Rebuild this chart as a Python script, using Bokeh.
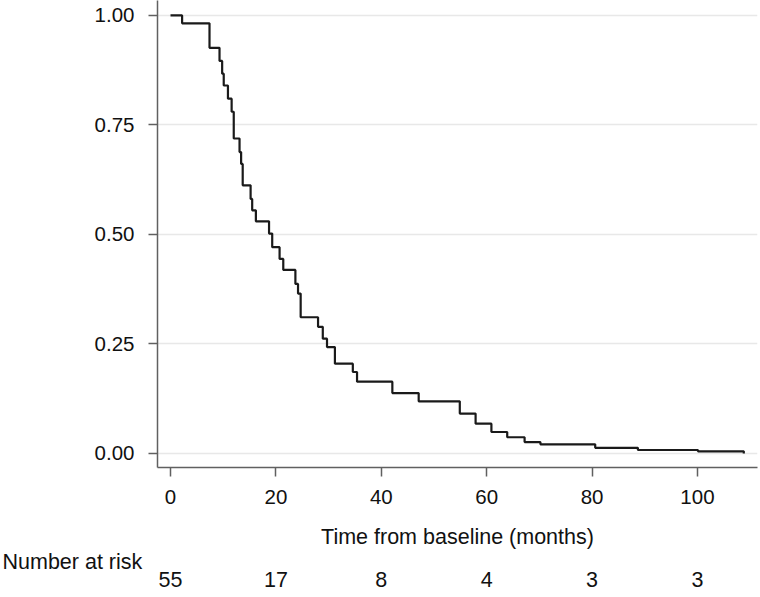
from bokeh.plotting import figure
from bokeh.models import Range1d, FixedTicker, LinearAxis, Title, PrintfTickFormatter
from bokeh.embed import file_html
from bokeh.resources import INLINE

# Kaplan-Meier estimate (time in months, survival after each step)
time = [0, 2.2, 7.4, 9.3, 9.8, 10.1, 10.9, 11.6, 12.0, 13.1, 13.4, 13.7, 15.2, 15.5,
        16.2, 18.7, 19.3, 20.7, 21.4, 23.7, 24.2, 24.7, 28.0, 28.9, 29.7, 31.2, 34.6,
        35.4, 42.1, 47.1, 54.9, 57.9, 60.9, 63.9, 67.2, 70.2, 80.6, 88.7, 100.1, 108.8]
surv = [1.0, 0.982, 0.926, 0.896, 0.867, 0.840, 0.810, 0.780, 0.719, 0.688, 0.661, 0.612,
        0.581, 0.555, 0.530, 0.502, 0.471, 0.444, 0.419, 0.387, 0.365, 0.311, 0.289, 0.262,
        0.243, 0.205, 0.186, 0.164, 0.138, 0.119, 0.091, 0.068, 0.049, 0.037, 0.026, 0.021,
        0.013, 0.008, 0.005, 0.0]

x_ticks = [0, 20, 40, 60, 80, 100]
y_ticks = [0.0, 0.25, 0.50, 0.75, 1.0]
at_risk = [55, 17, 8, 4, 3, 3]

FONT = "Liberation Sans"
FS_TICK = "20.5px"
FS_TEXT = "21.5px"
INK = "#111111"

p = figure(width=760, height=597,
           x_range=Range1d(-2.47, 111.4), y_range=Range1d(-0.032, 1.034),
           output_backend="svg", toolbar_location=None,
           min_border_left=157, min_border_right=3, min_border_top=0, min_border_bottom=130)
p.outline_line_color = None
p.background_fill_color = "white"
p.border_fill_color = "white"

p.xgrid.visible = False
p.ygrid.ticker = FixedTicker(ticks=y_ticks)
p.ygrid.grid_line_color = "#e8e8e8"
p.ygrid.grid_line_width = 1.5

p.xaxis.ticker = FixedTicker(ticks=x_ticks)
p.yaxis.ticker = FixedTicker(ticks=y_ticks)
p.yaxis.formatter = PrintfTickFormatter(format="%.2f")

for ax in (p.xaxis[0], p.yaxis[0]):
    ax.axis_line_color = "#606060"
    ax.axis_line_width = 1.5
    ax.major_tick_line_color = "#606060"
    ax.major_tick_line_width = 1.5
    ax.major_tick_out = 9
    ax.major_tick_in = 0
    ax.minor_tick_line_color = None
    ax.major_label_text_font = FONT
    ax.major_label_text_font_size = FS_TICK
    ax.major_label_text_color = INK

p.yaxis.major_label_standoff = 14
p.xaxis.major_label_standoff = 13
p.xaxis.axis_label = "Time from baseline (months)"
p.xaxis.axis_label_text_font = FONT
p.xaxis.axis_label_text_font_size = FS_TEXT
p.xaxis.axis_label_text_font_style = "normal"
p.xaxis.axis_label_text_color = INK
p.xaxis.axis_label_standoff = 18

p.step(time, surv, mode="after", line_color="#1a1a1a", line_width=2.2)

# "Number at risk" heading, left-aligned at the page edge
risk_title = Title(text="Number at risk", align="left", offset=-155, standoff=-7,
                   text_font=FONT, text_font_size=FS_TEXT, text_font_style="normal",
                   text_color=INK)
p.add_layout(risk_title, "below")

# Numbers at risk under each time tick
risk_axis = LinearAxis(ticker=FixedTicker(ticks=x_ticks),
                       major_label_overrides={t: str(n) for t, n in zip(x_ticks, at_risk)},
                       axis_line_color=None, major_tick_line_color=None,
                       minor_tick_line_color=None, major_tick_out=0, major_tick_in=0,
                       major_label_standoff=1,
                       major_label_text_font=FONT, major_label_text_font_size=FS_TEXT,
                       major_label_text_color=INK)
p.add_layout(risk_axis, "below")

open("out.html", "w").write(file_html(p, INLINE))
